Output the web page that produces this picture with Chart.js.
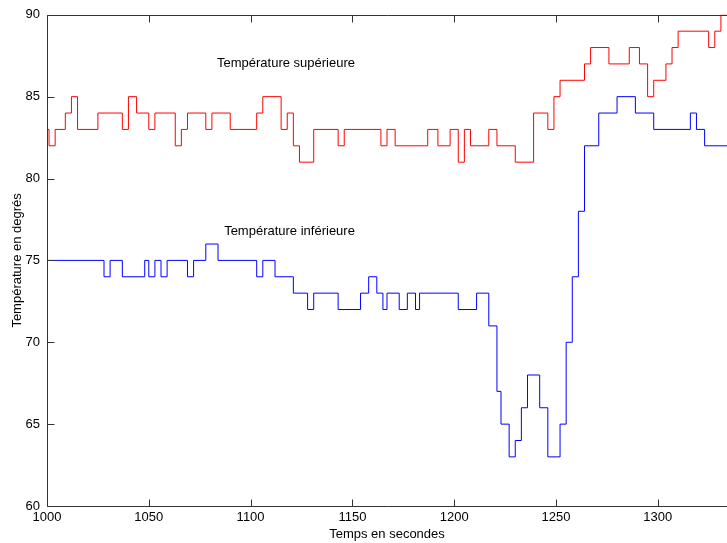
<!DOCTYPE html>
<html>
<head>
<meta charset="utf-8">
<script src="https://cdn.jsdelivr.net/npm/chart.js@4/dist/chart.umd.min.js"></script>
<style>
  html, body { margin: 0; padding: 0; background: #fff; }
  canvas { display: block; }
</style>
</head>
<body>
<canvas id="tempChart" width="727" height="543"></canvas>
<script>
// Data: second at which each new level starts, and the level in degrees
const upperTimes = [1000, 1001, 1004, 1009, 1012, 1015, 1025, 1037, 1040, 1044, 1050, 1053,
  1063, 1066, 1069, 1078, 1081, 1090, 1103, 1106, 1115, 1118, 1121, 1124, 1131, 1143, 1146,
  1164, 1167, 1171, 1187, 1192, 1198, 1202, 1205, 1208, 1217, 1221, 1230, 1239, 1246, 1249,
  1252, 1264, 1267, 1276, 1286, 1291, 1295, 1298, 1304, 1307, 1310, 1325, 1328, 1331];
const upperTemps = [83, 82, 83, 84, 85, 83, 84, 83, 85, 84, 83, 84,
  82, 83, 84, 83, 84, 83, 84, 85, 83, 84, 82, 81, 83, 82, 83,
  82, 83, 82, 83, 82, 83, 81, 83, 82, 83, 82, 81, 84, 83, 85,
  86, 87, 88, 87, 88, 87, 85, 86, 87, 88, 89, 88, 89, 90];

const lowerTimes = [1000, 1028, 1031, 1037, 1048, 1050, 1053, 1056, 1059, 1069, 1072, 1078,
  1084, 1103, 1106, 1112, 1121, 1128, 1131, 1143, 1154, 1158, 1162, 1165, 1167, 1173, 1177,
  1181, 1183, 1202, 1211, 1217, 1221, 1223, 1227, 1230, 1233, 1236, 1242, 1246, 1252, 1255,
  1258, 1261, 1264, 1271, 1280, 1289, 1298, 1316, 1319, 1323];
const lowerTemps = [75, 74, 75, 74, 75, 74, 75, 74, 75, 74, 75, 76,
  75, 74, 75, 74, 73, 72, 73, 72, 73, 74, 73, 72, 73, 72, 73,
  72, 73, 72, 73, 71, 67, 65, 63, 64, 66, 68, 66, 63, 65, 70,
  74, 78, 82, 84, 85, 84, 83, 84, 83, 82];

const timeRange = [1000, 1334];
const tempRange = [60, 90];
const xTickStep = 50;
const yTickStep = 5;

// Text written inside the plot, anchored in data units
const upperLabel = { text: "Température supérieure", x: 1083.5, y: 87.05 };
const lowerLabel = { text: "Température inférieure", x: 1087, y: 76.8 };

const FONT = "'Liberation Sans', Arial, Helvetica, sans-serif";

// Turn start times + levels into points, holding the last level to the end
function toPoints(times, temps) {
  const pts = times.map((t, i) => ({ x: t, y: temps[i] }));
  pts.push({ x: timeRange[1], y: temps[temps.length - 1] });
  return pts;
}

// Box, inward tick marks and the two in-plot labels
const frameAndTicks = {
  id: "frameAndTicks",
  afterDraw(chart) {
    const { ctx, chartArea: a, scales } = chart;
    const L = Math.round(a.left) + 0.5;
    const T = Math.round(a.top) + 0.5;
    const B = Math.round(a.bottom) + 0.5;
    const R = a.right;
    const tick = 7;

    ctx.save();
    ctx.strokeStyle = "#333";
    ctx.lineWidth = 1;
    ctx.beginPath();
    ctx.moveTo(R, T); ctx.lineTo(L, T); ctx.lineTo(L, B); ctx.lineTo(R, B);

    scales.x.ticks.forEach((t) => {
      const px = Math.round(scales.x.getPixelForValue(t.value)) + 0.5;
      ctx.moveTo(px, B); ctx.lineTo(px, B - tick);
      ctx.moveTo(px, T); ctx.lineTo(px, T + tick);
    });
    scales.y.ticks.forEach((t) => {
      const py = Math.round(scales.y.getPixelForValue(t.value)) + 0.5;
      ctx.moveTo(L, py); ctx.lineTo(L + tick, py);
    });
    ctx.stroke();

    ctx.fillStyle = "#000";
    ctx.font = "13px " + FONT;
    ctx.textAlign = "left";
    ctx.textBaseline = "middle";
    [upperLabel, lowerLabel].forEach((lab) => {
      ctx.fillText(lab.text, scales.x.getPixelForValue(lab.x), scales.y.getPixelForValue(lab.y));
    });
    ctx.restore();
  },
};

new Chart(document.getElementById("tempChart"), {
  type: "line",
  data: {
    datasets: [
      {
        label: "Température supérieure",
        data: toPoints(upperTimes, upperTemps),
        borderColor: "#ff0000",
        borderWidth: 1,
        pointRadius: 0,
        stepped: "before",
        fill: false,
      },
      {
        label: "Température inférieure",
        data: toPoints(lowerTimes, lowerTemps),
        borderColor: "#0000ff",
        borderWidth: 1,
        pointRadius: 0,
        stepped: "before",
        fill: false,
      },
    ],
  },
  options: {
    responsive: false,
    animation: false,
    devicePixelRatio: 1,
    layout: { padding: { top: 10, right: 0, left: 0, bottom: 0 } },
    plugins: { legend: { display: false }, tooltip: { enabled: false } },
    scales: {
      x: {
        type: "linear",
        min: timeRange[0],
        max: timeRange[1],
        grid: { display: false, drawTicks: false },
        border: { display: false },
        ticks: {
          stepSize: xTickStep,
          includeBounds: false,
          padding: 4,
          maxRotation: 0,
          autoSkip: false,
          color: "#000",
          font: { family: FONT, size: 13 },
          callback: (v) => String(v),
        },
        title: {
          display: true,
          text: "Temps en secondes",
          color: "#000",
          font: { family: FONT, size: 13 },
          padding: { top: 0, bottom: 1 },
        },
        afterFit: (scale) => { scale.height = 37; },
      },
      y: {
        min: tempRange[0],
        max: tempRange[1],
        grid: { display: false, drawTicks: false },
        border: { display: false },
        ticks: {
          stepSize: yTickStep,
          padding: 7,
          color: "#000",
          font: { family: FONT, size: 13 },
          callback: (v) => String(v),
        },
        title: {
          display: true,
          text: "Température en degrés",
          color: "#000",
          font: { family: FONT, size: 13 },
          padding: { top: 10, bottom: 0 },
        },
        afterFit: (scale) => { scale.width = 47; },
      },
    },
  },
  plugins: [frameAndTicks],
});
</script>
</body>
</html>
